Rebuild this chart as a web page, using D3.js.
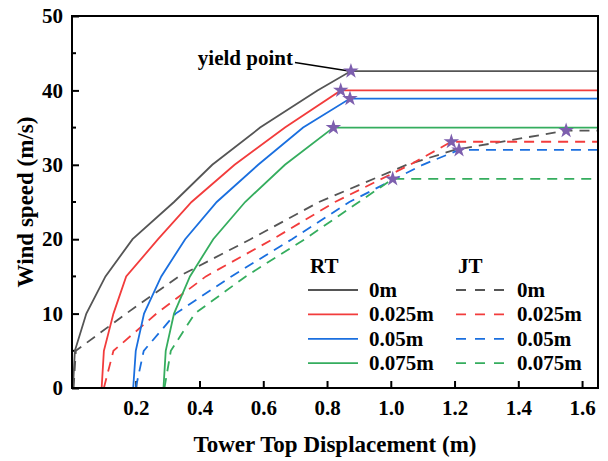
<!DOCTYPE html>
<html>
<head>
<meta charset="utf-8">
<script src="https://cdn.jsdelivr.net/npm/d3@7"></script>
<style>
  body { margin: 0; background: #fff; }
  svg text { font-family: "Liberation Serif", "Times New Roman", serif; font-weight: bold; fill: #000; }
</style>
</head>
<body>
<svg id="chart"></svg>
<script>
var seriesNames = ["0m", "0.025m", "0.05m", "0.075m"];
var seriesColors = ["#555555", "#f23c3c", "#1a6fdf", "#35ad5e"];
var starColor = "#7d5fae";

// RT (solid) points before the yield point
var rtDisp = [
  [0.003, 0.009, 0.045, 0.105, 0.19, 0.32, 0.44, 0.59, 0.77],
  [0.093, 0.1, 0.13, 0.17, 0.27, 0.375, 0.51, 0.668],
  [0.192, 0.2, 0.226, 0.28, 0.355, 0.454, 0.584, 0.725],
  [0.287, 0.294, 0.32, 0.37, 0.443, 0.543, 0.668]
];
var rtSpeed = [
  [0, 5, 10, 15, 20, 25, 30, 35, 40],
  [0, 5, 10, 15, 20, 25, 30, 35],
  [0, 5, 10, 15, 20, 25, 30, 35],
  [0, 5, 10, 15, 20, 25, 30]
];
var rtYieldDisp = [0.875, 0.843, 0.872, 0.82];
var rtYieldSpeed = [42.6, 40.0, 38.9, 35.0];

// JT (dashed) points before the yield point
var jtDisp = [
  [0.005, 0.012, 0.17, 0.335, 0.56, 0.775, 1.05, 1.2],
  [0.1, 0.13, 0.265, 0.42, 0.63, 0.825, 1.06],
  [0.2, 0.225, 0.325, 0.5, 0.69, 0.87, 1.1],
  [0.29, 0.31, 0.385, 0.545, 0.73, 0.9]
];
var jtSpeed = [
  [0, 5, 10, 15, 20, 25, 30, 32],
  [0, 5, 10, 15, 20, 25, 30],
  [0, 5, 10, 15, 20, 25, 30],
  [0, 5, 10, 15, 20, 25]
];
var jtYieldDisp = [1.55, 1.19, 1.214, 1.006];
var jtYieldSpeed = [34.6, 33.1, 32.0, 28.1];

var xTicks = [0.2, 0.4, 0.6, 0.8, 1.0, 1.2, 1.4, 1.6];
var yTicks = [0, 10, 20, 30, 40, 50];
var yMinorTicks = [5, 15, 25, 35, 45];
var xDomain = [0, 1.65];
var yDomain = [0, 50];

var width = 608, height = 461;
var margin = { top: 16, right: 10, bottom: 73, left: 72 };

var svg = d3.select("#chart")
  .attr("width", width)
  .attr("height", height);

var x = d3.scaleLinear().domain(xDomain).range([margin.left, width - margin.right]);
var y = d3.scaleLinear().domain(yDomain).range([height - margin.top - (height - margin.top - margin.bottom) + (height - margin.top - margin.bottom), margin.top]);
y.range([height - margin.bottom, margin.top]);

function buildSeries(disp, speed, yd, ys) {
  return disp.map(function(xs, i) {
    var pts = xs.map(function(v, j) { return [v, speed[i][j]]; });
    pts.push([yd[i], ys[i]]);
    pts.push([xDomain[1], ys[i]]);
    return { name: seriesNames[i], color: seriesColors[i], points: pts, yield: [yd[i], ys[i]] };
  });
}

var rtSeries = buildSeries(rtDisp, rtSpeed, rtYieldDisp, rtYieldSpeed);
var jtSeries = buildSeries(jtDisp, jtSpeed, jtYieldDisp, jtYieldSpeed);

var line = d3.line()
  .x(function(d) { return x(d[0]); })
  .y(function(d) { return y(d[1]); });

// axes (ticks pointing inward)
svg.append("g")
  .attr("transform", "translate(0," + (height - margin.bottom) + ")")
  .call(d3.axisBottom(x).tickValues(xTicks).tickFormat(d3.format(".1f"))
    .tickSizeInner(-7).tickSizeOuter(0).tickPadding(12))
  .call(function(g) { g.select(".domain").remove(); })
  .call(function(g) {
    g.selectAll("line").attr("stroke", "#000").attr("stroke-width", 2);
    g.selectAll("text").attr("font-size", 21).attr("fill", "#000");
  });

svg.append("g")
  .attr("transform", "translate(" + margin.left + ",0)")
  .call(d3.axisLeft(y).tickValues(yTicks).tickFormat(d3.format("d"))
    .tickSizeInner(-7).tickSizeOuter(0).tickPadding(9))
  .call(function(g) { g.select(".domain").remove(); })
  .call(function(g) {
    g.selectAll("line").attr("stroke", "#000").attr("stroke-width", 2);
    g.selectAll("text").attr("font-size", 21).attr("fill", "#000");
  });

svg.append("g")
  .selectAll("line")
  .data(yMinorTicks)
  .enter()
  .append("line")
    .attr("x1", margin.left)
    .attr("x2", margin.left + 4)
    .attr("y1", d => y(d))
    .attr("y2", d => y(d))
    .attr("stroke", "#000")
    .attr("stroke-width", 2);

// curves
var curves = svg.append("g").attr("fill", "none").attr("stroke-width", 1.8);

curves.selectAll(".jt")
  .data(jtSeries)
  .enter()
  .append("path")
    .attr("class", "jt")
    .attr("d", d => line(d.points))
    .attr("stroke", d => d.color)
    .attr("stroke-dasharray", "10,7");

curves.selectAll(".rt")
  .data(rtSeries)
  .enter()
  .append("path")
    .attr("class", "rt")
    .attr("d", d => line(d.points))
    .attr("stroke", d => d.color);

// frame
svg.append("rect")
  .attr("x", margin.left)
  .attr("y", margin.top)
  .attr("width", width - margin.left - margin.right)
  .attr("height", height - margin.top - margin.bottom)
  .attr("fill", "none")
  .attr("stroke", "#000")
  .attr("stroke-width", 2);

// yield point label
var gy = rtSeries[0].yield;
svg.append("line")
  .attr("x1", x(gy[0]) - 56)
  .attr("y1", y(gy[1]) - 8.5)
  .attr("x2", x(gy[0]) - 2)
  .attr("y2", y(gy[1]))
  .attr("stroke", "#000")
  .attr("stroke-width", 1.5);
svg.append("text")
  .attr("x", x(gy[0]) - 58)
  .attr("y", y(gy[1]) - 6)
  .attr("text-anchor", "end")
  .attr("font-size", 21)
  .text("yield point");

// stars
var star = d3.symbol().type(d3.symbolStar).size(75);
svg.append("g")
  .selectAll("path")
  .data(rtSeries.concat(jtSeries))
  .enter()
  .append("path")
    .attr("d", star)
    .attr("transform", d => "translate(" + x(d.yield[0]) + "," + y(d.yield[1]) + ")")
    .attr("fill", starColor);

// legend
var legend = svg.append("g").attr("transform", "translate(308,0)");
var groups = [
  { title: "RT", dx: 0, dash: null },
  { title: "JT", dx: 148, dash: "10,9" }
];
groups.forEach(function(grp) {
  var g = legend.append("g").attr("transform", "translate(" + grp.dx + ",0)");
  g.append("text")
    .attr("x", 2)
    .attr("y", 273)
    .attr("font-size", 21)
    .text(grp.title);
  var rows = g.selectAll(".row")
    .data(seriesNames)
    .enter()
    .append("g")
      .attr("class", "row")
      .attr("transform", (d, i) => "translate(0," + (290 + i * 24.4) + ")");
  rows.append("line")
    .attr("x1", 0)
    .attr("x2", 50)
    .attr("stroke", (d, i) => seriesColors[i])
    .attr("stroke-width", 1.8)
    .attr("stroke-dasharray", grp.dash);
  rows.append("text")
    .attr("x", 61)
    .attr("y", 7)
    .attr("font-size", 21)
    .text(d => d);
});

// axis titles
svg.append("text")
  .attr("x", (margin.left + width - margin.right) / 2)
  .attr("y", 452)
  .attr("text-anchor", "middle")
  .attr("font-size", 23)
  .text("Tower Top Displacement (m)");

svg.append("text")
  .attr("transform", "translate(33," + ((margin.top + height - margin.bottom) / 2) + ") rotate(-90)")
  .attr("text-anchor", "middle")
  .attr("font-size", 23)
  .text("Wind speed (m/s)");
</script>
</body>
</html>
